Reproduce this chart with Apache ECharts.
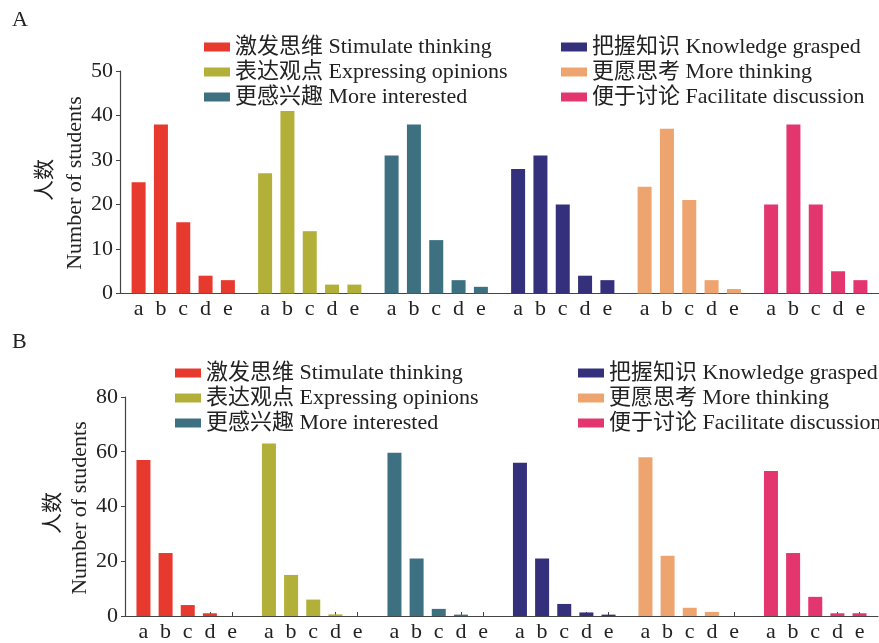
<!DOCTYPE html>
<html>
<head>
<meta charset="utf-8">
<script src="https://cdn.jsdelivr.net/npm/echarts@6/dist/echarts.min.js"></script>
<style>html,body{margin:0;padding:0;background:#fff;}#c{width:879px;height:643px;}</style>
</head>
<body>
<div id="c"></div>
<script>
// ---- data ----
const tickLetters = ['a', 'b', 'c', 'd', 'e'];
const seriesNames = [
  '激发思维 Stimulate thinking',
  '表达观点 Expressing opinions',
  '更感兴趣 More interested',
  '把握知识 Knowledge grasped',
  '更愿思考 More thinking',
  '便于讨论 Facilitate discussion'
];
const seriesColors = ['#E8392F', '#B3B03A', '#3D7182', '#34307C', '#EDA46F', '#E3366F'];

// Panel A
const aStimulate  = [25, 38, 16, 4, 3];
const aExpressing = [27, 41, 14, 2, 2];
const aInterested = [31, 38, 12, 3, 1.5];
const aKnowledge  = [28, 31, 20, 4, 3];
const aThinking   = [24, 37, 21, 3, 1];
const aDiscussion = [20, 38, 20, 5, 3];
const aTicks = [0, 10, 20, 30, 40, 50];

// Panel B
const bStimulate  = [57, 23, 4, 1, 0];
const bExpressing = [63, 15, 6, 0.6, 0];
const bInterested = [59.6, 21, 2.6, 0.5, 0];
const bKnowledge  = [56, 21, 4.4, 1.3, 0.5];
const bThinking   = [58, 22, 3, 1.5, 0];
const bDiscussion = [53, 23, 7, 1, 1];
const bTicks = [0, 20, 40, 60, 80];

const panelA = [aStimulate, aExpressing, aInterested, aKnowledge, aThinking, aDiscussion];
const panelB = [bStimulate, bExpressing, bInterested, bKnowledge, bThinking, bDiscussion];

// ---- category slots (bars separated by empty slots, gaps between groups) ----
const LEAD = 2, STEP = 3, GROUP = 17, TOTAL = 102;
const slotLetter = new Array(TOTAL).fill('');
const categories = [];
for (let k = 0; k < TOTAL; k++) categories.push('s' + k);
for (let g = 0; g < 6; g++) for (let i = 0; i < 5; i++) slotLetter[LEAD + g * GROUP + i * STEP] = tickLetters[i];

function groupData(g, vals) {
  const arr = new Array(TOTAL).fill('-');
  vals.forEach((v, i) => { arr[LEAD + g * GROUP + i * STEP] = v; });
  return arr;
}

const serif = "'Liberation Serif', 'Times New Roman', 'Noto Sans CJK SC', serif";
const txt = '#222';
const axisCol = '#444';
const isSlot = (idx) => slotLetter[idx] !== '';

function xAxis(gridIndex) {
  return {
    type: 'category', gridIndex, data: categories,
    axisLine: { lineStyle: { color: axisCol, width: 1.2 } },
    axisTick: { show: true, inside: true, length: 4, alignWithLabel: true, interval: isSlot, lineStyle: { color: axisCol } },
    axisLabel: { interval: isSlot, formatter: (v, idx) => slotLetter[idx], color: txt, fontFamily: serif, fontSize: 22, margin: 5 },
    splitLine: { show: false }
  };
}
function yAxis(gridIndex, ticks) {
  return {
    type: 'value', gridIndex, min: ticks[0], max: ticks[ticks.length - 1], interval: ticks[1] - ticks[0],
    axisLine: { show: true, lineStyle: { color: axisCol, width: 1.2 } },
    axisTick: { show: true, length: 4, lineStyle: { color: axisCol } },
    axisLabel: { color: txt, fontFamily: serif, fontSize: 22, margin: 7 },
    splitLine: { show: false }
  };
}

const series = [];
[panelA, panelB].forEach((panel, p) => {
  panel.forEach((vals, g) => {
    series.push({
      type: 'bar', name: seriesNames[g], xAxisIndex: p, yAxisIndex: p,
      data: groupData(g, vals), barWidth: 14, barGap: '-100%',
      itemStyle: { color: seriesColors[g] }, animation: false
    });
  });
});

function legend(left, top, names) {
  return {
    orient: 'vertical', left, top, data: names, itemWidth: 26, itemHeight: 9, itemGap: 3,
    icon: 'rect', selectedMode: false,
    textStyle: { color: txt, fontFamily: serif, fontSize: 22, lineHeight: 22, padding: [0, 0, 0, 0] }
  };
}

function rotText(x, y, text, size) {
  return { type: 'text', x, y, rotation: Math.PI / 2,
    style: { text, fill: txt, font: size + 'px ' + serif, align: 'center', verticalAlign: 'middle' } };
}

const chart = echarts.init(document.getElementById('c'));
chart.setOption({
  backgroundColor: '#fff',
  animation: false,
  grid: [
    { left: 120, top: 71, width: 760, height: 222.5 },
    { left: 125, top: 397, width: 753, height: 221 }
  ],
  xAxis: [xAxis(0), xAxis(1)],
  yAxis: [yAxis(0, aTicks), yAxis(1, bTicks)],
  legend: [
    legend(199, 31, seriesNames.slice(0, 3)),
    legend(556, 31, seriesNames.slice(3, 6)),
    legend(170, 357, seriesNames.slice(0, 3)),
    legend(573, 357, seriesNames.slice(3, 6))
  ],
  graphic: [
    { type: 'text', left: 12, top: 9, style: { text: 'A', fill: txt, font: '22px ' + serif } },
    { type: 'text', left: 12, top: 331, style: { text: 'B', fill: txt, font: '22px ' + serif } },
    rotText(45, 180, '人数', 21),
    rotText(75, 183, 'Number of students', 22),
    rotText(53, 513, '人数', 21),
    rotText(80, 508, 'Number of students', 22)
  ],
  series
});
</script>
</body>
</html>
